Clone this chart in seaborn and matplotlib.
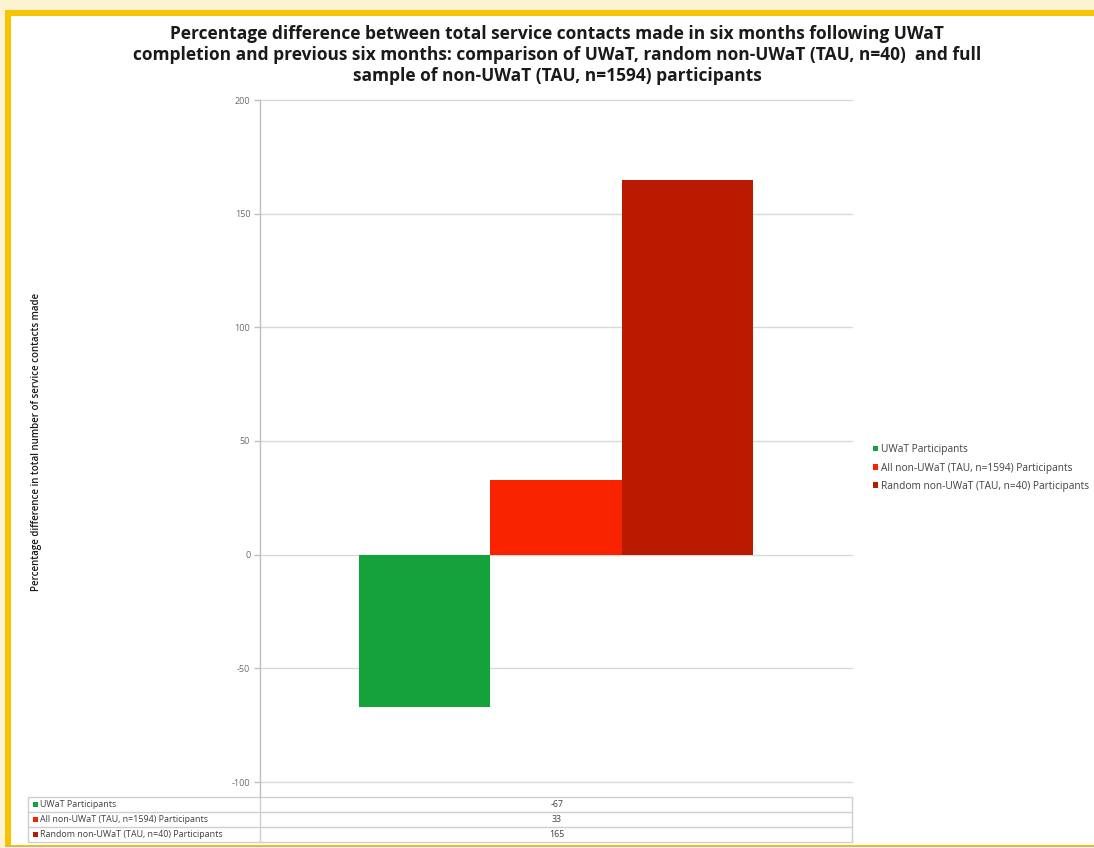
import matplotlib
matplotlib.use("Agg")
import matplotlib.pyplot as plt
from matplotlib.patches import Rectangle
from matplotlib.lines import Line2D
import seaborn as sns
import pandas as pd

# ---- data ----
series = ["UWaT Participants",
          "All non-UWaT (TAU, n=1594) Participants",
          "Random non-UWaT (TAU, n=40) Participants"]
values = [-67, 33, 165]
colors = ["#14A33A", "#F92300", "#BA1B00"]
yticks = [-100, -50, 0, 50, 100, 150, 200]
title_lines = ["Percentage difference between total service contacts made in six months following UWaT",
               "completion and previous six months: comparison of UWaT, random non-UWaT (TAU, n=40)  and full",
               "sample of non-UWaT (TAU, n=1594) participants"]
ylabel = "Percentage difference in total number of service contacts made"

df = pd.DataFrame({"group": ["g"] * 3, "series": series, "value": values})

sns.set_theme(style="white")
plt.rcParams["font.family"] = ["Open Sans", "DejaVu Sans"]

W, H = 1094, 848
fig = plt.figure(figsize=(W / 100, H / 100), dpi=100)
fig.patch.set_facecolor("#FDF3D3")

def fx(px):
    return px / W

def fy(py):
    return 1 - py / H

# frame: yellow border and white panel
fig.patches.append(Rectangle((fx(5), fy(846)), fx(1200), fy(10) - fy(846),
                             transform=fig.transFigure, facecolor="#F6C400",
                             edgecolor="none", zorder=-20))
fig.patches.append(Rectangle((fx(11), fy(845)), fx(1200), fy(16) - fy(845),
                             transform=fig.transFigure, facecolor="white",
                             edgecolor="none", zorder=-19))
fig.lines.append(Line2D([fx(5), fx(1094)], [fy(846), fy(846)], transform=fig.transFigure,
                        color="#C9B48A", lw=0.8, zorder=-18))

ax = fig.add_axes([fx(260), fy(782), fx(852) - fx(260), fy(100) - fy(782)])
ax.set_zorder(5)
ax.set_facecolor("none")
sns.barplot(data=df, x="group", y="value", hue="series", hue_order=series,
            palette=colors, dodge=True, width=0.666, saturation=1,
            ax=ax, legend=True, zorder=3)
for p in ax.patches:
    p.set_edgecolor("none")
ax.set_xlim(-0.5, 0.5)
ax.set_ylim(-100, 200)
ax.set_yticks(yticks)
ax.set_yticklabels([str(t) for t in yticks], fontsize=6.5, color="#6B6B6B")
ax.set_xticks([])
ax.set_xlabel("")
ax.set_ylabel("")
ax.grid(axis="y", color="#D9D9D9", lw=1, zorder=0)
for gl in ax.get_ygridlines():
    gl.set_clip_on(False)
ax.set_axisbelow(True)
for s in ["top", "right", "bottom"]:
    ax.spines[s].set_visible(False)
ax.spines["left"].set_color("#BFBFBF")
ax.spines["left"].set_linewidth(1)
ax.tick_params(axis="y", left=True, length=4, width=1, color="#BFBFBF", pad=3)

# legend
handles, labels = ax.get_legend_handles_labels()
ax.legend(handles, labels, loc="center left",
          bbox_to_anchor=(fx(864), fy(468)), bbox_transform=fig.transFigure,
          frameon=False, fontsize=7.3, handlelength=0.5, handleheight=0.5,
          handletextpad=0.3, labelspacing=0.72, labelcolor="#404040")

# title
for i, line in enumerate(title_lines):
    fig.text(fx(557), fy(34 + 21 * i), line, ha="center", va="center",
             fontsize=12.5, fontweight="bold", color="#1A1A1A")

# y label
fig.text(fx(37), fy(442), ylabel, rotation=90, ha="center", va="center",
         fontsize=7.0, fontweight="semibold", color="#1A1A1A")

# data table
tbl_left, tbl_mid, tbl_right = 28, 260, 852
row_top = [797, 812, 827, 842]
lc = "#CFCFCF"
for yy in row_top:
    fig.lines.append(Line2D([fx(tbl_left), fx(tbl_right)], [fy(yy), fy(yy)],
                            transform=fig.transFigure, color=lc, lw=1))
for xx in (tbl_left, tbl_mid, tbl_right):
    fig.lines.append(Line2D([fx(xx), fx(xx)], [fy(row_top[0]), fy(row_top[-1])],
                            transform=fig.transFigure, color=lc, lw=1))
fig.lines.append(Line2D([fx(tbl_mid), fx(tbl_mid)], [fy(782), fy(797)],
                        transform=fig.transFigure, color="#BFBFBF", lw=1))
for i, (name, val, col) in enumerate(zip(series, values, colors)):
    yc = (row_top[i] + row_top[i + 1]) / 2
    fig.patches.append(Rectangle((fx(33), fy(yc + 2.5)), fx(5), fy(yc - 2.5) - fy(yc + 2.5),
                                 transform=fig.transFigure, facecolor=col, edgecolor="none"))
    fig.text(fx(40), fy(yc), name, ha="left", va="center", fontsize=6.4, color="#404040")
    fig.text(fx(557), fy(yc), str(val), ha="center", va="center", fontsize=6.4, color="#404040")

fig.savefig("out.png", dpi=100)
